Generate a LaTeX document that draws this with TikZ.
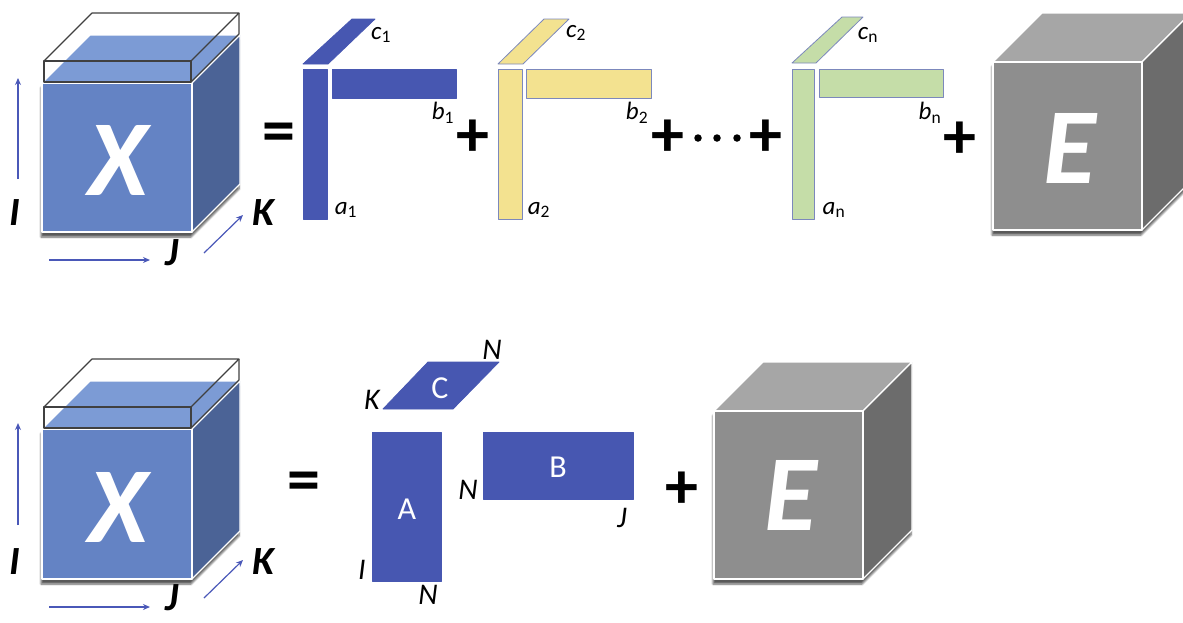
\documentclass[tikz,border=0pt]{standalone}
\usepackage{fontspec}
\setmainfont{Carlito}
\usetikzlibrary{arrows.meta,shadows.blur}
\definecolor{xfront}{HTML}{6483C4}
\definecolor{xtop}{HTML}{7C9BD5}
\definecolor{xright}{HTML}{4B6396}
\definecolor{efront}{HTML}{8E8E8E}
\definecolor{etop}{HTML}{A6A6A6}
\definecolor{eright}{HTML}{6C6C6C}
\definecolor{matblue}{HTML}{4757B1}
\definecolor{matyel}{HTML}{F3E290}
\definecolor{matgrn}{HTML}{C5DDA8}
\definecolor{matedge}{HTML}{7C88BC}
\definecolor{arrowblue}{HTML}{4A58B8}
\newcommand\sublab[2]{\textit{#1}\textsubscript{\upshape #2}}
% x y w h d frontcolour topcolour rightcolour
\newcommand\drawcube[8]{%
  \path[blur shadow={shadow xshift=-1pt,shadow yshift=-5pt,shadow blur steps=6,shadow opacity=65}]
    (#1,#2+#4) -- (#1,#2) -- (#1+#5,#2-#5) -- (#1+#3+#5,#2-#5) -- (#1+#3+#5,#2+#4-#5) -- (#1+#3,#2+#4) -- cycle;
  \filldraw[edge,fill=#7] (#1,#2) -- (#1+#5,#2-#5) -- (#1+#3+#5,#2-#5) -- (#1+#3,#2) -- cycle;
  \filldraw[edge,fill=#8] (#1+#3,#2) -- (#1+#3+#5,#2-#5) -- (#1+#3+#5,#2+#4-#5) -- (#1+#3,#2+#4) -- cycle;
  \filldraw[edge,fill=#6] (#1,#2) rectangle (#1+#3,#2+#4);
}
% slab: x1 y1 x2 y2 d
\newcommand\drawslab[5]{%
  \draw[slab] (#1,#2) rectangle (#3,#4);
  \draw[slab] (#1,#2) -- (#1+#5,#2-#5) -- (#3+#5,#2-#5) -- (#3,#2);
  \draw[slab] (#3+#5,#2-#5) -- (#3+#5,#4-#5) -- (#3,#4);
}
\tikzset{
  edge/.style={draw=white,line width=1.3pt,line join=round},
  slab/.style={draw=black!75,line width=1.1pt,line join=round},
  mblue/.style={fill=matblue,draw=matblue,line width=0.8pt,line join=round},
  myel/.style={fill=matyel,draw=matedge,line width=0.8pt,line join=round},
  mgrn/.style={fill=matgrn,draw=matedge,line width=0.8pt,line join=round},
  axis/.style={draw=arrowblue,line width=1.2pt,-{Stealth[length=7pt,width=6pt]}},
  dimlab/.style={font=\fontsize{40}{40}\selectfont\bfseries\itshape,inner sep=0pt},
  biglab/.style={font=\fontsize{108}{108}\selectfont\bfseries\itshape,text=white,inner sep=0pt},
  sumlab/.style={font=\fontsize{25}{25}\selectfont,inner sep=0pt},
  rowlab/.style={font=\fontsize{30}{30}\selectfont\itshape,inner sep=0pt},
  matlab/.style={font=\fontsize{32}{32}\selectfont,text=white,inner sep=0pt},
  opsym/.style={font=\fontsize{66}{66}\selectfont\bfseries,inner sep=0pt},
  dotsym/.style={circle,fill=black,inner sep=0pt,minimum size=7.5pt},
}
\begin{document}
\begin{tikzpicture}[x=1pt,y=-1pt]
\useasboundingbox (0,0) rectangle (1183,622);
\clip (0,0) rectangle (1183,622);

% ================= Row 1 =================
\drawcube{42}{83}{150}{149}{48}{xfront}{xtop}{xright}
\drawslab{44}{61}{191}{82}{48}
\node[biglab] (X1) at (118,160) {X};

\coordinate (i1s) at (18,179); \coordinate (i1e) at (18,78);
\coordinate (j1s) at (49,260); \coordinate (j1e) at (150,260);
\coordinate (k1s) at (204,253); \coordinate (k1e) at (243,215);
\draw[axis] (i1s) -- (i1e);
\draw[axis] (j1s) -- (j1e);
\draw[axis] (k1s) -- (k1e);
\node[dimlab] (I1) at (15,213) {I};
\node[dimlab] (J1) at (172,253) {J};
\node[dimlab] (K1) at (263,213) {K};

\node[opsym] (eq1) at (279,138) {=};

% term 1
\filldraw[mblue] (303,69) rectangle (327,219);
\filldraw[mblue] (332,69) rectangle (456,98);
\filldraw[mblue] (303,64) -- (328,64) -- (375,19) -- (352,19) -- cycle;
\node[sumlab] (c1) at (381,35) {\sublab{c}{1}};
\node[sumlab] (b1) at (443,113) {\sublab{b}{1}};
\node[sumlab] (a1) at (346,210) {\sublab{a}{1}};
\node[opsym] (p1) at (473,138) {+};

% term 2
\filldraw[myel] (498,69) rectangle (522,219);
\filldraw[myel] (526,69) rectangle (651,98);
\filldraw[myel] (498,64) -- (523,64) -- (569,19) -- (544,19) -- cycle;
\node[sumlab] (c2) at (576,33) {\sublab{c}{2}};
\node[sumlab] (b2) at (637,113) {\sublab{b}{2}};
\node[sumlab] (a2) at (539,210) {\sublab{a}{2}};
\node[opsym] (p2) at (668,138) {+};
\node[dotsym] (d1) at (698,138) {};
\node[dotsym] (d2) at (717,138) {};
\node[dotsym] (d3) at (737,138) {};
\node[opsym] (p3) at (766,138) {+};

% term n
\filldraw[mgrn] (792,69) rectangle (814,219);
\filldraw[mgrn] (819,69) rectangle (943,97);
\filldraw[mgrn] (792,63) -- (816,63) -- (863,17) -- (842,17) -- cycle;
\node[sumlab] (cn) at (868,35) {\sublab{c}{n}};
\node[sumlab] (bn) at (930,113) {\sublab{b}{n}};
\node[sumlab] (an) at (834,210) {\sublab{a}{n}};
\node[opsym] (p4) at (960,140) {+};

\drawcube{993}{62}{149}{168}{49}{efront}{etop}{eright}
\node[biglab] (E1) at (1070,148) {E};

% ================= Row 2 =================
\drawcube{42}{429}{150}{150}{48}{xfront}{xtop}{xright}
\drawslab{44}{407}{191}{428}{48}
\node[biglab] (X2) at (118,507) {X};

\coordinate (i2s) at (18,525); \coordinate (i2e) at (18,423);
\coordinate (j2s) at (49,607); \coordinate (j2e) at (150,607);
\coordinate (k2s) at (204,598); \coordinate (k2e) at (243,560);
\draw[axis] (i2s) -- (i2e);
\draw[axis] (j2s) -- (j2e);
\draw[axis] (k2s) -- (k2e);
\node[dimlab] (I2) at (15,562) {I};
\node[dimlab] (J2) at (172,598) {J};
\node[dimlab] (K2) at (263,562) {K};

\node[opsym] (eq2) at (304,487) {=};

\filldraw[mblue] (383,409) -- (453,409) -- (499,362) -- (428,362) -- cycle;
\node[matlab] (Cm) at (440,388) {C};
\node[rowlab] (Kc) at (372,400) {K};
\node[rowlab] (Nc) at (492,350) {N};

\filldraw[mblue] (372,432) rectangle (441,581);
\node[matlab] (Am) at (407,509) {A};
\node[rowlab] (Ia) at (362,570) {I};
\node[rowlab] (Na) at (428,595) {N};

\filldraw[mblue] (483,432) rectangle (633,499);
\node[matlab] (Bm) at (558,467) {B};
\node[rowlab] (Nb) at (468,490) {N};
\node[rowlab] (Jb) at (622,518) {J};

\node[opsym] (p5) at (682,490) {+};

\drawcube{714}{411}{149}{168}{49}{efront}{etop}{eright}
\node[biglab] (E2) at (791,495) {E};
\end{tikzpicture}
\end{document}
